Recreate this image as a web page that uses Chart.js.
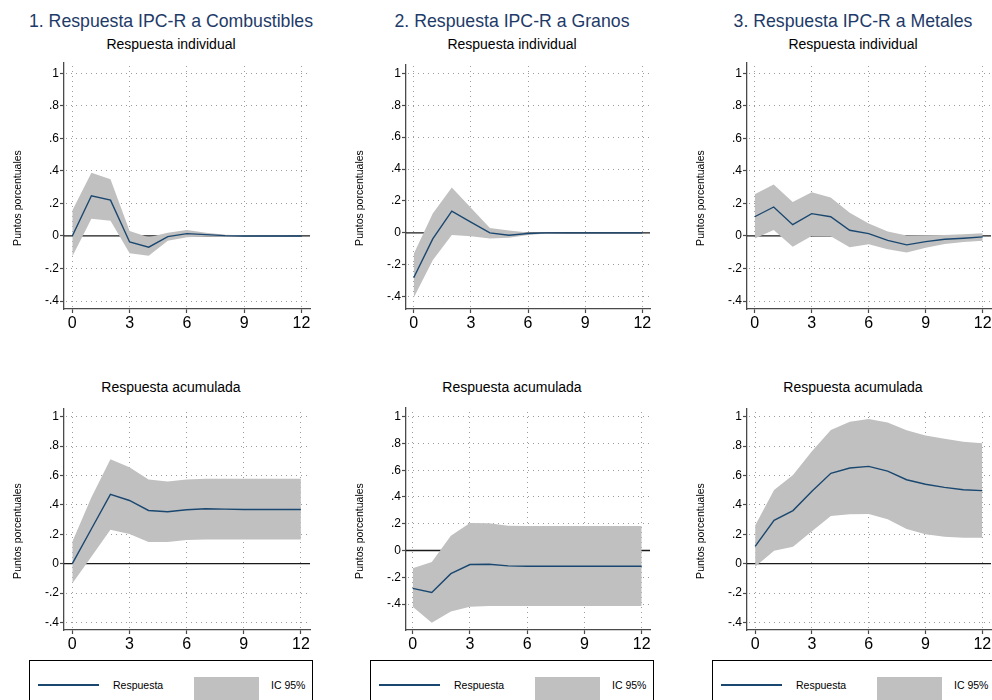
<!DOCTYPE html>
<html>
<head>
<meta charset="utf-8">
<script src="https://cdn.jsdelivr.net/npm/chart.js@4.4.1/dist/chart.umd.min.js"></script>
<style>
  body { margin: 0; background: #fff; font-family: "Liberation Sans", Arial, sans-serif; }
  #page { position: relative; width: 992px; height: 700px; overflow: hidden; background: #fff; }
  canvas { position: absolute; }
  .title { position: absolute; width: 342px; text-align: center; color: #1e3a68; font-size: 17.7px; line-height: 20px; white-space: nowrap; }
  .sub { position: absolute; width: 342px; text-align: center; color: #000; font-size: 14px; line-height: 16px; white-space: nowrap; }
  .ytitle { position: absolute; width: 140px; height: 14px; line-height: 14px; text-align: center; font-size: 10.5px; color: #000; transform: rotate(-90deg); white-space: nowrap; }
  .legend { position: absolute; top: 660px; width: 282px; height: 60px; border: 1px solid #000; background: #fff; }
  .legend .ln { position: absolute; left: 8px; top: 23px; width: 61px; height: 1.5px; background: #1a476f; }
  .legend .box { position: absolute; left: 164px; top: 16px; width: 65px; height: 40px; background: #c0c0c0; }
  .legend .txt { position: absolute; top: 18px; font-size: 10.5px; line-height: 12px; color: #000; white-space: nowrap; }
</style>
</head>
<body>
<div id="page"></div>
<script>
// horizons and axis ticks
const horizons = [0, 1, 2, 3, 4, 5, 6, 7, 8, 9, 10, 11, 12];
const xTickValues = [0, 3, 6, 9, 12];
const yTickValues = [-0.4, -0.2, 0, 0.2, 0.4, 0.6, 0.8, 1];
const yTickLabels = ['-.4', '-.2', '0', '.2', '.4', '.6', '.8', '1'];

const panelTitles = ['1. Respuesta IPC-R a Combustibles', '2. Respuesta IPC-R a Granos', '3. Respuesta IPC-R a Metales'];
const rowTitles = ['Respuesta individual', 'Respuesta acumulada'];
const yAxisTitle = 'Puntos porcentuales';
const legendLabels = ['Respuesta', 'IC 95%'];

// 1. Combustibles - individual
const combIndResp = [0.000, 0.247, 0.220, -0.037, -0.069, -0.004, 0.014, 0.008, 0.002, 0.000, 0.000, 0.000, 0.000];
const combIndHi   = [0.157, 0.388, 0.349, 0.031, -0.008, 0.020, 0.037, 0.020, 0.008, 0.004, 0.002, 0.002, 0.001];
const combIndLo   = [-0.127, 0.106, 0.094, -0.106, -0.122, -0.029, -0.008, -0.004, -0.003, -0.002, -0.002, -0.001, -0.001];

// 2. Granos - individual
const granIndResp = [-0.281, -0.038, 0.136, 0.067, 0.000, -0.015, -0.004, 0.000, 0.000, 0.000, 0.000, 0.000, 0.000];
const granIndHi   = [-0.132, 0.121, 0.285, 0.157, 0.031, 0.015, 0.003, 0.001, 0.000, 0.000, 0.000, 0.000, 0.000];
const granIndLo   = [-0.406, -0.172, -0.013, -0.021, -0.036, -0.031, -0.013, -0.004, -0.001, 0.000, 0.000, 0.000, 0.000];

// 3. Metales - individual
const metIndResp = [0.118, 0.178, 0.069, 0.137, 0.118, 0.035, 0.014, -0.027, -0.055, -0.035, -0.020, -0.014, -0.006];
const metIndHi   = [0.257, 0.316, 0.208, 0.269, 0.237, 0.143, 0.076, 0.027, 0.002, 0.004, 0.006, 0.010, 0.016];
const metIndLo   = [-0.016, 0.037, -0.067, 0.000, -0.002, -0.069, -0.051, -0.082, -0.102, -0.073, -0.049, -0.037, -0.029];

// 1. Combustibles - acumulada
const combAcuResp = [0.000, 0.236, 0.471, 0.430, 0.362, 0.353, 0.367, 0.374, 0.371, 0.369, 0.369, 0.369, 0.369];
const combAcuHi   = [0.149, 0.450, 0.711, 0.655, 0.573, 0.559, 0.573, 0.578, 0.578, 0.578, 0.578, 0.578, 0.578];
const combAcuLo   = [-0.134, 0.048, 0.231, 0.202, 0.147, 0.147, 0.161, 0.165, 0.165, 0.165, 0.165, 0.165, 0.165];

// 2. Granos - acumulada
const granAcuResp = [-0.283, -0.313, -0.173, -0.105, -0.103, -0.115, -0.118, -0.118, -0.118, -0.118, -0.118, -0.118, -0.118];
const granAcuHi   = [-0.133, -0.085, 0.110, 0.205, 0.203, 0.185, 0.183, 0.183, 0.183, 0.183, 0.183, 0.183, 0.183];
const granAcuLo   = [-0.420, -0.540, -0.455, -0.420, -0.415, -0.415, -0.415, -0.415, -0.415, -0.415, -0.415, -0.415, -0.415];

// 3. Metales - acumulada
const metAcuResp = [0.118, 0.295, 0.361, 0.492, 0.615, 0.651, 0.662, 0.630, 0.571, 0.540, 0.519, 0.503, 0.497];
const metAcuHi   = [0.259, 0.501, 0.603, 0.764, 0.909, 0.966, 0.984, 0.961, 0.907, 0.871, 0.850, 0.830, 0.819];
const metAcuLo   = [-0.020, 0.088, 0.116, 0.220, 0.324, 0.336, 0.338, 0.302, 0.236, 0.200, 0.184, 0.177, 0.177];

// colours
const lineColor = '#1a476f';
const bandColor = '#c0c0c0';
const gridColor = '#9c9c9c';
const axisColor = '#4a4a4a';

Chart.defaults.font.family = "'Liberation Sans', Arial, sans-serif";
Chart.defaults.color = '#000';

// layout of each panel (plot area in page pixels and axis ranges)
const PAD_TOP = 10, PAD_RIGHT = 14, Y_AXIS_W = 64, X_AXIS_H = 28;
const colCenters = [171, 512, 853];
const legendLefts = [29, 370, 712];

const panels = [
    { axisX: 64,  plotRight: 310, plotTop: 63,  plotBottom: 309, xMin: -0.435, xMax: 12.445, yMin: -0.449, yMax: 1.063, resp: combIndResp, hi: combIndHi, lo: combIndLo },
    { axisX: 406, plotRight: 650, plotTop: 65,  plotBottom: 309, xMin: -0.404, xMax: 12.404, yMin: -0.477, yMax: 1.052, resp: granIndResp, hi: granIndHi, lo: granIndLo },
    { axisX: 747, plotRight: 991, plotTop: 63,  plotBottom: 309, xMin: -0.405, xMax: 12.437, yMin: -0.449, yMax: 1.063, resp: metIndResp, hi: metIndHi, lo: metIndLo },
    { axisX: 64,  plotRight: 310, plotTop: 409, plotBottom: 630, xMin: -0.436, xMax: 12.478, yMin: -0.451, yMax: 1.052, resp: combAcuResp, hi: combAcuHi, lo: combAcuLo },
    { axisX: 406, plotRight: 650, plotTop: 408, plotBottom: 630, xMin: -0.351, xMax: 12.435, yMin: -0.594, yMax: 1.065, resp: granAcuResp, hi: granAcuHi, lo: granAcuLo },
    { axisX: 747, plotRight: 991, plotTop: 409, plotBottom: 630, xMin: -0.430, xMax: 12.460, yMin: -0.451, yMax: 1.052, resp: metAcuResp, hi: metAcuHi, lo: metAcuLo }
];

let page = document.getElementById('page');

// dotted grid (Stata style) plus a solid line at zero, both under the band
const gridAndZero = {
    id: 'gridAndZero',
    beforeDatasetsDraw(chart) {
        const { ctx, chartArea, scales } = chart;
        ctx.save();
        ctx.fillStyle = gridColor;
        yTickValues.forEach(v => {
            if (v === 0) return;
            let y = Math.round(scales.y.getPixelForValue(v) - 0.5);
            for (let x = Math.ceil(chartArea.left) + 2; x < chartArea.right; x += 5) {
                ctx.fillRect(x, y, 1, 1);
            }
        });
        xTickValues.forEach(v => {
            let x = Math.round(scales.x.getPixelForValue(v) - 0.5);
            for (let y = Math.floor(chartArea.bottom) - 3; y > chartArea.top; y -= 5) {
                ctx.fillRect(x, y, 1, 1);
            }
        });
        const y0 = scales.y.getPixelForValue(0);
        ctx.strokeStyle = '#1a1a1a';
        ctx.lineWidth = 1.3;
        ctx.beginPath();
        ctx.moveTo(chartArea.left, y0);
        ctx.lineTo(chartArea.right, y0);
        ctx.stroke();
        ctx.restore();
    }
};

function toPoints(values) {
    return horizons.map((h, i) => ({ x: h, y: values[i] }));
}

function addDiv(cls, text, left, top) {
    let d = document.createElement('div');
    d.className = cls;
    d.textContent = text;
    d.style.left = left + 'px';
    d.style.top = top + 'px';
    page.appendChild(d);
    return d;
}

function makePanel(p) {
    let canvas = document.createElement('canvas');
    let w = Y_AXIS_W + (p.plotRight - p.axisX) + PAD_RIGHT;
    let h = PAD_TOP + (p.plotBottom - p.plotTop) + X_AXIS_H;
    canvas.width = w;
    canvas.height = h;
    canvas.style.left = (p.axisX - Y_AXIS_W) + 'px';
    canvas.style.top = (p.plotTop - PAD_TOP) + 'px';
    page.appendChild(canvas);

    return new Chart(canvas, {
        type: 'line',
        data: {
            datasets: [
                { data: toPoints(p.resp), borderColor: lineColor, borderWidth: 1.4, pointRadius: 0, fill: false, tension: 0 },
                { data: toPoints(p.hi), borderColor: 'rgba(0,0,0,0)', borderWidth: 0, pointRadius: 0, fill: '+1', backgroundColor: bandColor, tension: 0 },
                { data: toPoints(p.lo), borderColor: 'rgba(0,0,0,0)', borderWidth: 0, pointRadius: 0, fill: false, tension: 0 }
            ]
        },
        options: {
            responsive: false,
            animation: false,
            events: [],
            layout: { padding: { top: PAD_TOP, right: PAD_RIGHT, left: 0, bottom: 0 } },
            plugins: { legend: { display: false }, tooltip: { enabled: false } },
            scales: {
                x: {
                    type: 'linear',
                    min: p.xMin,
                    max: p.xMax,
                    afterBuildTicks: (s) => { s.ticks = xTickValues.map(v => ({ value: v })); },
                    afterFit: (s) => { s.height = X_AXIS_H; },
                    grid: { drawOnChartArea: false, tickLength: 4, tickColor: axisColor, tickWidth: 1.2 },
                    border: { color: axisColor, width: 1.3 },
                    ticks: { font: { size: 16 }, color: '#000', padding: 1, maxRotation: 0, autoSkip: false, callback: (v) => String(v) }
                },
                y: {
                    type: 'linear',
                    min: p.yMin,
                    max: p.yMax,
                    afterBuildTicks: (s) => { s.ticks = yTickValues.map(v => ({ value: v })); },
                    afterFit: (s) => { s.width = Y_AXIS_W; },
                    grid: { drawOnChartArea: false, tickLength: 4, tickColor: axisColor, tickWidth: 1.2 },
                    border: { color: axisColor, width: 1.3 },
                    ticks: { font: { size: 12 }, color: '#000', padding: 1, autoSkip: false, callback: (v, i) => yTickLabels[i] }
                }
            }
        },
        plugins: [gridAndZero]
    });
}

panels.forEach(p => makePanel(p));

// titles
for (let c = 0; c < 3; c++) {
    addDiv('title', panelTitles[c], colCenters[c] - 171, 11.4);
    addDiv('sub', rowTitles[0], colCenters[c] - 171, 35.5);
    addDiv('sub', rowTitles[1], colCenters[c] - 171, 379.2);
}

// y axis titles
panels.forEach((p, i) => {
    let cy = i < 3 ? 198.4 : 531;
    addDiv('ytitle', yAxisTitle, p.axisX - 46.8 - 70, cy - 7);
});

// legends under each column
legendLefts.forEach(left => {
    let lg = document.createElement('div');
    lg.className = 'legend';
    lg.style.left = left + 'px';
    let ln = document.createElement('div'); ln.className = 'ln'; lg.appendChild(ln);
    let t1 = document.createElement('div'); t1.className = 'txt'; t1.style.left = '83px'; t1.textContent = legendLabels[0]; lg.appendChild(t1);
    let bx = document.createElement('div'); bx.className = 'box'; lg.appendChild(bx);
    let t2 = document.createElement('div'); t2.className = 'txt'; t2.style.left = '241px'; t2.textContent = legendLabels[1]; lg.appendChild(t2);
    page.appendChild(lg);
});
</script>
</body>
</html>
